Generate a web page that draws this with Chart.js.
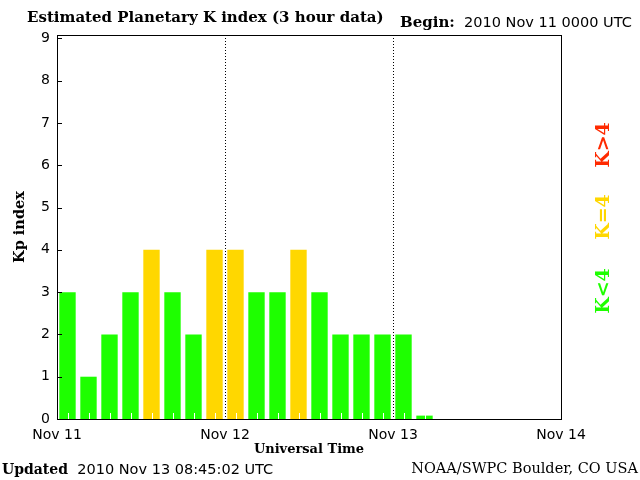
<!DOCTYPE html>
<html>
<head>
<meta charset="utf-8">
<script src="https://cdn.jsdelivr.net/npm/chart.js@4.4.1/dist/chart.umd.min.js"></script>
<style>
  body { margin: 0; background: #fff; }
  #wrap { position: relative; width: 640px; height: 480px; }
  .txt { position: absolute; white-space: nowrap; color: #000; line-height: 1; }
  .serif { font-family: "DejaVu Serif", serif; }
  .sans { font-family: "DejaVu Sans", sans-serif; }
  .leg { position: absolute; font-family: "DejaVu Serif", serif; font-weight: bold; font-size: 19px;
         transform: translate(-50%, -50%) rotate(-90deg); white-space: nowrap; line-height: 1; }
</style>
</head>
<body>
<div id="wrap">
  <canvas id="kpChart" width="640" height="480"></canvas>
  <div class="txt serif" style="left:27px; top:10px; font-size:15px; font-weight:bold;">Estimated Planetary K index (3 hour data)</div>
  <div class="txt" style="left:400px; top:14px;"><span class="serif" style="font-size:15px; font-weight:bold;">Begin:</span><span class="sans" style="font-size:14.5px;">&nbsp;&nbsp;2010 Nov 11 0000 UTC</span></div>
  <div class="txt" style="left:2px; top:461px;"><span class="serif" style="font-size:14px; font-weight:bold;">Updated</span><span class="sans" style="font-size:14.5px;">&nbsp;&nbsp;2010 Nov 13 08:45:02 UTC</span></div>
  <div class="txt serif" style="right:2px; top:461px; font-size:14.5px;">NOAA/SWPC Boulder, CO USA</div>
  <div class="leg" style="left:602px; top:145px; color:#ff2a00;">K&gt;4</div>
  <div class="leg" style="left:602px; top:217px; color:#ffd700;">K=4</div>
  <div class="leg" style="left:602px; top:291px; color:#1eff00;">K&lt;4</div>
</div>
<script>
// Kp por intervalo de 3 horas, a partir de 2010 Nov 11 00 UTC
const kpValues = [3, 1, 2, 3, 4, 3, 2, 4,
                  4, 3, 3, 4, 3, 2, 2, 2,
                  2, 0.08, null, null, null, null, null, null];
const dayLabels = ['Nov 11', 'Nov 12', 'Nov 13', 'Nov 14'];
const yTicks = [0, 1, 2, 3, 4, 5, 6, 7, 8, 9];

const green = '#1eff00';
const yellow = '#ffd700';
const red = '#ff2a00';

function kpColor(v) {
    if (v === null) return green;
    if (v > 4) return red;
    if (v === 4) return yellow;
    return green;
}

const points = kpValues.map((v, i) => ({ x: i + 0.5, y: v }));

// desenha a caixa, os ticks internos do eixo y e os ticks brancos na base
const boxPlugin = {
    id: 'box',
    afterDatasetsDraw(chart) {
        const ctx = chart.ctx;
        const a = chart.chartArea;
        const xs = chart.scales.x;
        const ys = chart.scales.y;
        ctx.save();
        ctx.strokeStyle = '#fff';
        ctx.lineWidth = 1;
        for (let i = 0; i < kpValues.length; i++) {
            const px = Math.round(xs.getPixelForValue(i + 0.5)) + 0.5;
            ctx.beginPath();
            ctx.moveTo(px, a.bottom);
            ctx.lineTo(px, a.bottom - 6);
            ctx.stroke();
        }
        ctx.strokeStyle = '#000';
        yTicks.forEach(v => {
            const py = Math.round(ys.getPixelForValue(v)) + 0.5;
            ctx.beginPath();
            ctx.moveTo(a.left, py);
            ctx.lineTo(a.left + 5, py);
            ctx.stroke();
        });
        ctx.strokeRect(Math.round(a.left) + 0.5, Math.round(a.top) + 0.5,
                       Math.round(a.right - a.left), Math.round(a.bottom - a.top));
        ctx.restore();
    }
};

const config = {
    type: 'bar',
    data: {
        datasets: [{
            data: points,
            backgroundColor: points.map(p => kpColor(p.y)),
            borderWidth: 0,
            barPercentage: 0.78,
            categoryPercentage: 1.0
        }]
    },
    options: {
        responsive: false,
        animation: false,
        layout: { padding: { top: 35, right: 79, bottom: 23, left: 0 } },
        plugins: { legend: { display: false }, tooltip: { enabled: false } },
        scales: {
            x: {
                type: 'linear',
                min: 0,
                max: 24,
                offset: false,
                afterFit: s => { s.height = 38; },
                grid: {
                    offset: false,
                    drawTicks: false,
                    color: c => (c.tick && (c.tick.value === 8 || c.tick.value === 16)) ? '#000' : 'rgba(0,0,0,0)',
                    lineWidth: 1
                },
                border: { display: false, dash: [1, 2] },
                ticks: {
                    stepSize: 8,
                    autoSkip: false,
                    maxRotation: 0,
                    padding: 8,
                    color: '#000',
                    font: { family: 'DejaVu Sans', size: 14 },
                    callback: v => dayLabels[v / 8]
                },
                title: {
                    display: true,
                    text: 'Universal Time',
                    color: '#000',
                    font: { family: 'DejaVu Serif', size: 13, weight: 'bold' },
                    padding: 0
                }
            },
            y: {
                min: 0,
                max: 9.08,
                afterFit: s => { s.width = 57; },
                grid: { display: false, drawTicks: false },
                border: { display: false },
                ticks: {
                    stepSize: 1,
                    includeBounds: false,
                    padding: 7,
                    color: '#000',
                    font: { family: 'DejaVu Sans', size: 14 }
                },
                title: {
                    display: true,
                    text: 'Kp index',
                    color: '#000',
                    font: { family: 'DejaVu Serif', size: 14.5, weight: 'bold' },
                    padding: { top: 12 }
                }
            }
        }
    },
    plugins: [boxPlugin]
};

const ctx = document.getElementById('kpChart').getContext('2d');
window.myChart = new Chart(ctx, config);
</script>
</body>
</html>
